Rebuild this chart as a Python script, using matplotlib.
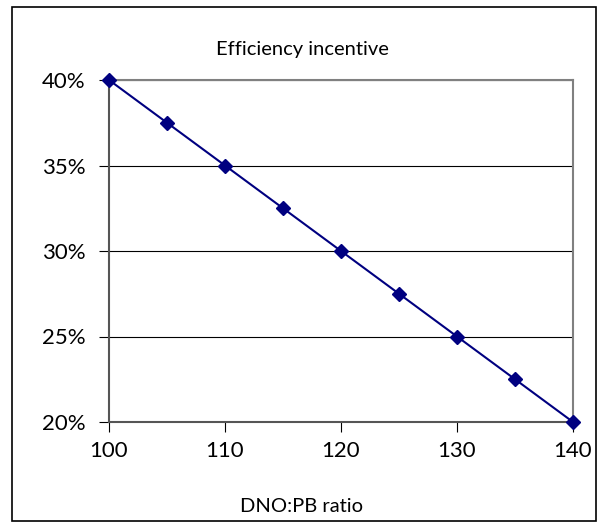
import matplotlib.pyplot as plt
from matplotlib.patches import Rectangle
from matplotlib.ticker import FuncFormatter

ratio = [100, 105, 110, 115, 120, 125, 130, 135, 140]
incentive = [0.40, 0.375, 0.35, 0.325, 0.30, 0.275, 0.25, 0.225, 0.20]

plt.rcParams['font.family'] = ['Lato', 'DejaVu Sans']

fig = plt.figure(figsize=(6.04, 5.28), dpi=100)
W, H = 604.0, 528.0

# outer chart border
fig.patches.append(Rectangle((12 / W, 7 / H), 584 / W, 514 / H, transform=fig.transFigure,
                             fill=False, edgecolor='black', linewidth=1.2))

ax = fig.add_axes([109 / W, 106 / H, 464 / W, 342 / H])
ax.plot(ratio, incentive, color='#000080', linewidth=1.5, marker='D', markersize=7,
        clip_on=False, zorder=5)

ax.set_xlim(100, 140)
ax.set_ylim(0.20, 0.40)
ax.set_xticks(range(100, 141, 10))
ax.set_yticks([0.20, 0.25, 0.30, 0.35, 0.40])
ax.yaxis.set_major_formatter(FuncFormatter(lambda v, p: '%d%%' % round(v * 100)))
ax.yaxis.grid(True, color='black', linewidth=0.8)
ax.set_axisbelow(True)

for side in ['top', 'right']:
    ax.spines[side].set_color('#808080')
    ax.spines[side].set_linewidth(1.5)
for side in ['left', 'bottom']:
    ax.spines[side].set_color('#555555')
    ax.spines[side].set_linewidth(1.5)

ax.tick_params(axis='both', direction='out', length=7, width=0.8, color='black',
               labelsize=16, pad=7)
ax.tick_params(axis='y', pad=10)

# title and axis label are centred on the whole chart, not the plot area
fig.text(302 / W, 1 - 50 / H, 'Efficiency incentive', fontsize=14.5, ha='center', va='center')
fig.text(302 / W, 1 - 507 / H, 'DNO:PB ratio', fontsize=14.5, ha='center', va='center')

plt.savefig('out.png', dpi=100)
plt.close()
